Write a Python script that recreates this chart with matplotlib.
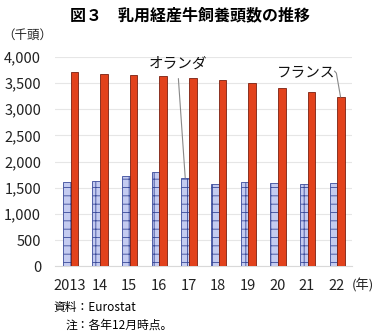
import matplotlib.pyplot as plt
import numpy as np

plt.rcParams['font.family'] = ['Noto Sans CJK JP', 'DejaVu Sans']
plt.rcParams['hatch.linewidth'] = 0.6
plt.rcParams['hatch.color'] = '#3a4a9a'

years = ["2013", "14", "15", "16", "17", "18", "19", "20", "21", "22"]
netherlands = [1610, 1625, 1734, 1810, 1690, 1568, 1606, 1587, 1568, 1587]
france = [3704, 3671, 3646, 3640, 3600, 3556, 3493, 3409, 3327, 3237]

x = np.arange(len(years))
w = 0.26

fig = plt.figure(figsize=(3.8, 3.35), dpi=100)
ax = fig.add_axes([0.145, 0.205, 0.78, 0.625])

ax.bar(x - w / 2 + 0.02, netherlands, w, color='#c4cbf0', edgecolor='#3a4a9a',
       hatch='++', linewidth=0.6, zorder=3)
ax.bar(x + w / 2 + 0.02, france, w, color='#e2421c', edgecolor='#7a2010',
       linewidth=0.6, zorder=3)

ax.set_xlim(-0.5, len(years) - 0.5)
ax.set_ylim(0, 4000)
ax.set_yticks(range(0, 4001, 500))
ax.set_yticklabels([f"{v:,}" for v in range(0, 4001, 500)])
ax.set_xticks(x)
ax.set_xticklabels(years)
ax.yaxis.grid(True, color='#e6e6e6', linewidth=0.8, zorder=0)
for s in ['top', 'right', 'left']:
    ax.spines[s].set_visible(False)
ax.spines['bottom'].set_color('#d9d9d9')
ax.tick_params(length=0, labelsize=10.5, colors='#222222')
ax.tick_params(axis='x', pad=9)
ax.tick_params(axis='y', pad=10)

# series labels with leader lines
ax.annotate("オランダ", xy=(4 - w / 2 + 0.02, netherlands[4]), xytext=(3.64, 3880),
            fontsize=10.5, ha='center', va='center', color='#111111',
            arrowprops=dict(arrowstyle='-', color='#888888', lw=0.8,
                            shrinkA=4, shrinkB=0, relpos=(0.5, 0)))
ax.text(6.97, 3710, "フランス", fontsize=10.5, ha='left', va='center', color='#111111')
ax.plot([8.93, 8.99, 9.13], [3728, 3690, france[9]], color='#888888', lw=0.8,
        zorder=4, clip_on=False)

fig.text(0.5, 0.955, "図３　乳用経産牛飼養頭数の推移", fontsize=11.5,
         fontweight='bold', ha='center', va='center')
fig.text(0.005, 0.895, "（千頭）", fontsize=9, ha='left', va='center', color='#222222')
fig.text(0.925, 0.148, "(年)", fontsize=9.5, ha='left', va='center', color='#222222')
fig.text(0.14, 0.083, "資料：Eurostat", fontsize=8.5, ha='left', va='center')
fig.text(0.172, 0.03, "注：各年12月時点。", fontsize=8.5, ha='left', va='center')

fig.savefig("out.png", dpi=100)
